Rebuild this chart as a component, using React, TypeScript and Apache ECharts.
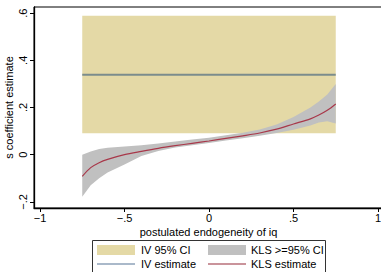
import React, { useEffect, useRef } from "react";
import * as echarts from "echarts";

// KLS grid of postulated endogeneity values
const xs = [-0.75, -0.7, -0.65, -0.6, -0.5, -0.4, -0.3, -0.2, -0.1, 0, 0.1, 0.2, 0.3, 0.4, 0.5, 0.6, 0.65, 0.7, 0.75];
const klsEstimate = [-0.092, -0.055, -0.034, -0.02, 0.0, 0.014, 0.027, 0.038, 0.048, 0.058, 0.069, 0.08, 0.092, 0.108, 0.13, 0.152, 0.168, 0.188, 0.215];
const klsUpper = [0.0, 0.014, 0.024, 0.029, 0.035, 0.04, 0.047, 0.056, 0.064, 0.072, 0.082, 0.093, 0.107, 0.128, 0.16, 0.2, 0.225, 0.255, 0.3];
const klsLower = [-0.178, -0.13, -0.1, -0.075, -0.042, -0.006, 0.016, 0.03, 0.04, 0.05, 0.06, 0.07, 0.08, 0.092, 0.106, 0.124, 0.136, 0.142, 0.132];

// IV estimate and its 95% CI
const ivRange = [-0.75, 0.75];
const ivEstimate = 0.339;
const ivCI = [0.091, 0.589];

// tick values
const xTicks = [-1, -0.5, 0, 0.5, 1];
const yTicks = [-0.2, 0, 0.2, 0.4, 0.6];

const FONT = '"Liberation Sans", Arial, Helvetica, sans-serif';
const SAND = "#e4d9a6";
const GRAY = "#c0c0c0";

const fmt = (v: number) => {
  if (Math.abs(v) < 1e-9) return "0";
  const s = Math.abs(v).toString().replace(/^0/, "");
  return (v < 0 ? "\u2212" : "") + s;
};

export default function App() {
  const ref = useRef<HTMLDivElement>(null);
  useEffect(() => {
    if (!ref.current) return;
    const chart = echarts.init(ref.current, undefined, { renderer: "svg" });
    chart.setOption({
      animation: false,
      backgroundColor: "#fff",
      textStyle: { fontFamily: FONT },
      grid: {
        left: 34,
        top: 7,
        right: -2,
        bottom: 64,
        show: true,
        borderColor: "#000",
        borderWidth: 1,
        containLabel: false,
        outerBoundsMode: "none",
      },
      xAxis: {
        type: "value",
        min: -1.0355,
        max: 1.0296,
        name: "postulated endogeneity of iq",
        nameLocation: "middle",
        nameGap: 18,
        nameMoveOverlap: false,
        nameTextStyle: { fontSize: 11, color: "#000", fontFamily: FONT, verticalAlign: "top" },
        axisLine: { show: true, onZero: false, lineStyle: { color: "#000", width: 1.3 } },
        axisTick: { show: true, length: 4, customValues: xTicks, lineStyle: { color: "#000" } },
        axisLabel: {
          customValues: xTicks,
          formatter: fmt,
          fontSize: 11,
          color: "#000",
          margin: 4,
          fontFamily: FONT,
        },
        splitLine: { show: false },
      },
      yAxis: {
        type: "value",
        min: -0.226,
        max: 0.626,
        name: "s coefficient estimate",
        nameLocation: "middle",
        nameGap: 25,
        nameMoveOverlap: false,
        nameTextStyle: { fontSize: 11, color: "#000", fontFamily: FONT, verticalAlign: "middle" },
        axisLine: { show: true, onZero: false, lineStyle: { color: "#000", width: 1.3 } },
        axisTick: { show: true, length: 4, customValues: yTicks, lineStyle: { color: "#000" } },
        axisLabel: {
          customValues: yTicks,
          formatter: fmt,
          fontSize: 11,
          color: "#000",
          margin: 6,
          rotate: 90,
          fontFamily: FONT,
        },
        splitLine: { show: false },
      },
      series: [
        {
          type: "custom",
          name: "IV 95% CI",
          z: 1,
          data: [[ivRange[0], ivCI[0], ivRange[1], ivCI[1]]],
          renderItem: (params: any, api: any) => {
            const p1 = api.coord([api.value(0), api.value(3)]);
            const p2 = api.coord([api.value(2), api.value(1)]);
            return {
              type: "rect",
              shape: { x: p1[0], y: p1[1], width: p2[0] - p1[0], height: p2[1] - p1[1] },
              style: { fill: SAND },
            };
          },
        },
        {
          type: "custom",
          name: "KLS >=95% CI",
          z: 2,
          data: xs.map((x, i) => [x, klsLower[i], klsUpper[i]]),
          renderItem: (params: any, api: any) => {
            if (params.dataIndex !== 0) return null;
            const pts: number[][] = [];
            for (let i = 0; i < xs.length; i++) pts.push(api.coord([xs[i], klsUpper[i]]));
            for (let i = xs.length - 1; i >= 0; i--) pts.push(api.coord([xs[i], klsLower[i]]));
            return {
              type: "polygon",
              shape: { points: pts, smooth: 0 },
              style: { fill: GRAY },
            };
          },
        },
        {
          type: "line",
          name: "IV estimate",
          z: 3,
          symbol: "none",
          data: ivRange.map((x) => [x, ivEstimate]),
          lineStyle: { color: "#7b8c8c", width: 2 },
        },
        {
          type: "line",
          name: "KLS estimate",
          z: 4,
          symbol: "none",
          smooth: 0.3,
          data: xs.map((x, i) => [x, klsEstimate[i]]),
          lineStyle: { color: "#a8384a", width: 1.2 },
        },
      ],
      graphic: [
        {
          type: "rect",
          shape: { x: 92.5, y: 240.5, width: 233, height: 40 },
          style: { fill: "#fff", stroke: "#333", lineWidth: 1 },
        },
        { type: "rect", shape: { x: 97, y: 245, width: 38, height: 10 }, style: { fill: SAND } },
        {
          type: "text",
          x: 141,
          y: 250,
          style: { text: "IV 95% CI", fontSize: 11, fill: "#000", fontFamily: FONT, verticalAlign: "middle" },
        },
        {
          type: "line",
          shape: { x1: 97, y1: 264, x2: 135, y2: 264 },
          style: { stroke: "#8ea2b8", lineWidth: 1.5 },
        },
        {
          type: "text",
          x: 141,
          y: 264,
          style: { text: "IV estimate", fontSize: 11, fill: "#000", fontFamily: FONT, verticalAlign: "middle" },
        },
        { type: "rect", shape: { x: 208, y: 245, width: 38, height: 10 }, style: { fill: GRAY } },
        {
          type: "text",
          x: 251,
          y: 250,
          style: { text: "KLS >=95% CI", fontSize: 11, fill: "#000", fontFamily: FONT, verticalAlign: "middle" },
        },
        {
          type: "line",
          shape: { x1: 208, y1: 264, x2: 246, y2: 264 },
          style: { stroke: "#b9707a", lineWidth: 1.5 },
        },
        {
          type: "text",
          x: 251,
          y: 264,
          style: { text: "KLS estimate", fontSize: 11, fill: "#000", fontFamily: FONT, verticalAlign: "middle" },
        },
      ],
    });
    return () => chart.dispose();
  }, []);
  return (
    <div
      ref={ref}
      style={{ position: "fixed", left: 0, top: 0, width: 381, height: 272, background: "#fff" }}
    />
  );
}
